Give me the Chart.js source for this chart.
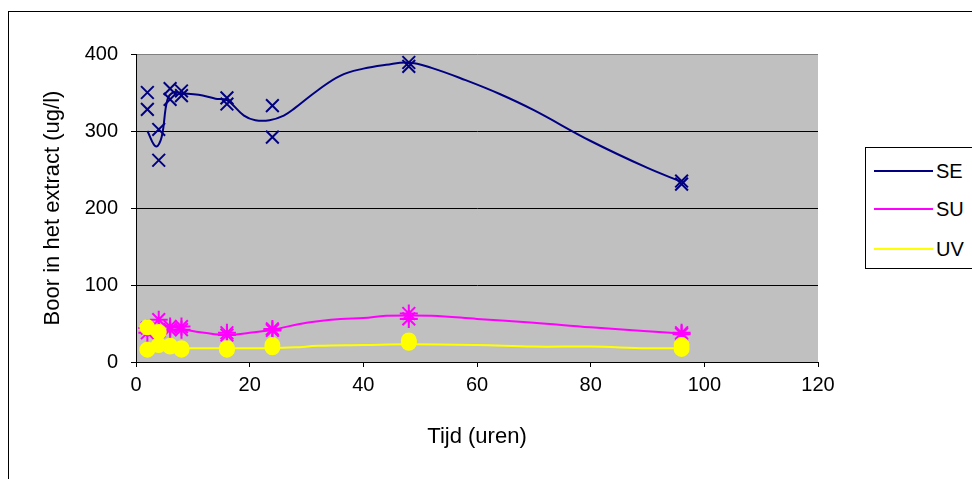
<!DOCTYPE html>
<html>
<head>
<meta charset="utf-8">
<script src="https://cdn.jsdelivr.net/npm/chart.js@4"></script>
<style>
  body { margin:0; background:#fff; overflow:hidden; }
  .wrap { position:relative; width:972px; height:479px; }
  .frame { position:absolute; left:8px; top:11px; width:1000px; height:500px; border:1px solid #000; }
  canvas { position:absolute; left:0; top:0; }
  .legend { position:absolute; left:865px; top:147px; width:130px; height:120px; border:1px solid #000; background:#fff;
            font-family:"Liberation Sans", Arial, sans-serif; font-size:20px; }
  .legend .row { position:absolute; left:0; height:24px; }
  .legend .swatch { position:absolute; left:8px; width:59px; height:2px; top:11px; }
  .legend .lbl { position:absolute; left:70px; top:0; line-height:24px; }
</style>
</head>
<body>
<div class="wrap">
  <div class="frame"></div>
  <canvas id="chart" width="972" height="479"></canvas>
  <div class="legend" id="legend"></div>
</div>
<script>
// series names and colours
const names = ["SE", "SU", "UV"];
const colors = ["#000080", "#FF00FF", "#FFFF00"];

// measured points (time in hours)
const tijd = [2, 2, 4, 4, 6, 6, 8, 8, 16, 16, 24, 24, 48, 48, 96, 96];
const seVals = [350, 328, 302, 262, 355, 341, 352, 346, 343, 335, 333, 292, 389, 384, 235, 231];
const suVals = [44, 38, 55, 40, 46, 42, 46, 42, 38, 35, 43, 41, 63, 56, 38, 36];
const uvVals = [45, 16, 39, 22, 21, 20, 18, 16, 18, 16, 22, 19, 28, 25, 22, 17];

// smoothed trend lines
const seLineX = [2, 3.5, 4.5, 5.5, 6.5, 8, 11, 14, 16, 19, 21, 23.5, 26, 28, 32, 36, 40, 44, 48, 52, 58, 64, 70, 80, 90, 96];
const seLineY = [300, 280, 292, 340, 350, 349, 347, 342, 340, 320, 314, 314, 320, 330, 353, 372, 381, 386, 389, 382, 366, 348, 327, 287, 252, 234];
const suLineX = [2, 4, 6, 8, 12, 16, 20, 24, 30, 36, 40, 44, 52, 60, 70, 80, 96];
const suLineY = [45, 47, 46, 43, 38, 35, 38, 42, 51, 56, 57, 60, 60, 56, 51, 45, 37];
const uvLineX = [2, 4, 6, 8, 16, 24, 28, 32, 40, 48, 60, 70, 80, 90, 96];
const uvLineY = [22, 21, 19, 18, 18, 18, 19, 21, 22, 23, 22, 20, 20, 18, 18];

// axis ticks
const xTicks = [0, 20, 40, 60, 80, 100, 120];
const yTicks = [0, 100, 200, 300, 400];

const font = { family: "'Liberation Sans', Arial, sans-serif", size: 20 };
const titleFont = { family: "'Liberation Sans', Arial, sans-serif", size: 22 };

function pts(xs, ys) { return xs.map((x, i) => ({ x: x, y: ys[i] })); }

const plotBg = {
  id: "plotBg",
  beforeDraw(c) {
    const a = c.chartArea, ctx = c.ctx;
    ctx.save();
    ctx.fillStyle = "#C0C0C0";
    ctx.fillRect(a.left, a.top, a.right - a.left, a.bottom - a.top);
    ctx.restore();
  }
};

const markerStyles = ["crossRot", "star", "circle"];
const markerVals = [seVals, suVals, uvVals];
const lineXs = [seLineX, suLineX, uvLineX];
const lineYs = [seLineY, suLineY, uvLineY];

const datasets = [];
names.forEach((n, i) => {
  const isCircle = markerStyles[i] === "circle";
  datasets.push({
    label: n + " punten",
    data: pts(tijd, markerVals[i]),
    pointStyle: markerStyles[i],
    pointRadius: isCircle ? 7 : 9,
    pointBorderWidth: 2,
    pointBorderColor: colors[i],
    pointBackgroundColor: colors[i],
    showLine: false,
    order: 3 - i
  });
  datasets.push({
    label: n,
    data: pts(lineXs[i], lineYs[i]),
    borderColor: colors[i],
    borderWidth: 2,
    pointRadius: 0,
    showLine: true,
    tension: 0.4,
    order: 10 - i
  });
});

new Chart(document.getElementById("chart"), {
  type: "scatter",
  data: { datasets: datasets },
  plugins: [plotBg],
  options: {
    responsive: false,
    animation: false,
    layout: { padding: { left: 0, top: 54, right: 154, bottom: 0 } },
    plugins: { legend: { display: false }, tooltip: { enabled: false } },
    scales: {
      x: {
        type: "linear",
        min: 0, max: 120,
        afterBuildTicks: s => { s.ticks = xTicks.map(v => ({ value: v })); },
        afterFit: s => { s.height = 117; },
        border: { color: "#000", width: 1 },
        grid: { drawOnChartArea: false, drawTicks: true, tickLength: 5, tickColor: "#000" },
        ticks: { color: "#000", font: font, padding: 6, maxRotation: 0 },
        title: { display: true, text: "Tijd (uren)", color: "#000", font: titleFont, padding: { top: 0, bottom: 29 } }
      },
      y: {
        type: "linear",
        min: 0, max: 400,
        afterBuildTicks: s => { s.ticks = yTicks.map(v => ({ value: v })); },
        afterFit: s => { s.width = 136; },
        border: { color: "#000", width: 1 },
        grid: {
          color: ctx => ctx.tick && ctx.tick.value === 400 ? "#808080" : "#000",
          lineWidth: 1,
          drawTicks: true, tickLength: 5, tickColor: "#000"
        },
        ticks: { color: "#000", font: font, padding: 13 },
        title: { display: true, text: "Boor in het extract (ug/l)", color: "#000", font: titleFont, padding: { top: 40, bottom: 0 } }
      }
    }
  }
});

// legend built from series names and colours
const leg = document.getElementById("legend");
const rowTops = [11, 49, 89];
names.forEach((n, i) => {
  const r = document.createElement("div");
  r.className = "row";
  r.style.top = rowTops[i] + "px";
  r.innerHTML = '<div class="swatch" style="background:' + colors[i] + '"></div><div class="lbl">' + n + '</div>';
  leg.appendChild(r);
});
</script>
</body>
</html>
